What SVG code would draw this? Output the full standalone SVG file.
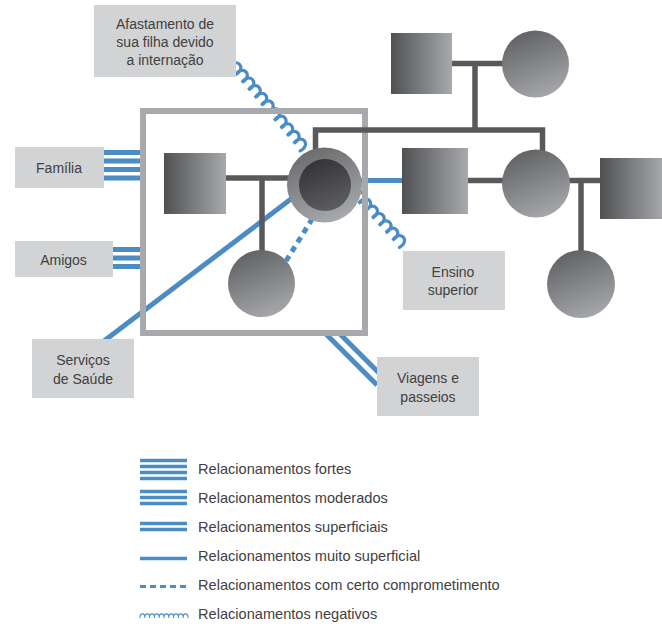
<svg xmlns="http://www.w3.org/2000/svg" width="662" height="624" viewBox="0 0 662 624">
<style>
  .box{fill:#d1d3d4}
  .lbl{font-family:"Liberation Sans",Arial,sans-serif;font-size:14px;fill:#414042;text-anchor:middle}
  .leg{font-family:"Liberation Sans",Arial,sans-serif;font-size:14.6px;fill:#414042}
  .blue{stroke:#4a8cc3;fill:none;stroke-width:5}
  .bl{stroke:#4a8cc3;fill:none;stroke-width:3.5}
  .wavy{stroke:#4a8cc3;fill:none;stroke-width:3.2;stroke-linecap:round}
  .ped{stroke:#58595b;fill:none;stroke-width:5.5}
  .frame{fill:none;stroke:#a7a9ac;stroke-width:6}
</style>
<defs>
  <linearGradient id="sq" x1="0" y1="0" x2="1" y2="0">
    <stop offset="0" stop-color="#505153"/>
    <stop offset="1" stop-color="#a7a9ac"/>
  </linearGradient>
  <linearGradient id="ci" x1="0.3" y1="0" x2="0.7" y2="1">
    <stop offset="0" stop-color="#606163"/>
    <stop offset="1" stop-color="#a7a9ac"/>
  </linearGradient>
  <linearGradient id="ring" x1="0.3" y1="0" x2="0.7" y2="1">
    <stop offset="0" stop-color="#6a6b6d"/>
    <stop offset="1" stop-color="#a9abae"/>
  </linearGradient>
  <linearGradient id="inner" x1="0.3" y1="0" x2="0.7" y2="1">
    <stop offset="0" stop-color="#333335"/>
    <stop offset="1" stop-color="#5e5f61"/>
  </linearGradient>
</defs>

<g id="connectors">
  <g class="blue" stroke-width="4.5">
    <line x1="104" y1="152.5" x2="142" y2="152.5"/>
    <line x1="104" y1="161" x2="142" y2="161"/>
    <line x1="104" y1="169.5" x2="142" y2="169.5"/>
    <line x1="104" y1="178" x2="142" y2="178"/>
  </g>
  <g class="blue" stroke-width="5">
    <line x1="113" y1="249.5" x2="142" y2="249.5"/>
    <line x1="113" y1="258" x2="142" y2="258"/>
    <line x1="113" y1="266.5" x2="142" y2="266.5"/>
  </g>
  <line class="blue" x1="100" y1="344" x2="312" y2="183"/>
  <line class="blue" x1="340" y1="334" x2="384" y2="378"/>
  <line class="blue" x1="326" y1="334" x2="377" y2="385"/>
  <line class="blue" x1="340" y1="180.5" x2="404" y2="180.5"/>
  <line class="blue" stroke-width="4" stroke-dasharray="6,5" x1="286" y1="261" x2="314" y2="216"/>
  <path class="wavy" transform="translate(229,67) rotate(49.7)" d="M0,0 c-3,-13 13,-13 10,0 c-3,-13 13,-13 10,0 c-3,-13 13,-13 10,0 c-3,-13 13,-13 10,0 c-3,-13 13,-13 10,0 c-3,-13 13,-13 10,0 c-3,-13 13,-13 10,0 c-3,-13 13,-13 10,0 c-3,-13 13,-13 10,0 c-3,-13 13,-13 10,0 c-3,-13 13,-13 10,0"/>
  <path class="wavy" transform="translate(352,196) rotate(47.3)" d="M0,0 c-3,-13 13,-13 10,0 c-3,-13 13,-13 10,0 c-3,-13 13,-13 10,0 c-3,-13 13,-13 10,0 c-3,-13 13,-13 10,0 c-3,-13 13,-13 10,0 c-3,-13 13,-13 10,0"/>
</g>

<g id="frame">
  <rect class="frame" x="143" y="111" width="222" height="222"/>
</g>

<g id="pedigree-lines" class="ped">
  <line x1="224" y1="178" x2="295" y2="178"/>
  <line x1="262" y1="178" x2="262" y2="255"/>
  <polyline points="315.5,152 315.5,130 542.5,130 542.5,155"/>
  <line x1="475" y1="61" x2="475" y2="130"/>
  <line x1="450" y1="63.5" x2="505" y2="63.5"/>
  <line x1="466" y1="180.5" x2="505" y2="180.5"/>
  <line x1="567" y1="180.5" x2="602" y2="180.5"/>
  <line x1="581" y1="180.5" x2="581" y2="253"/>
</g>

<g id="node-grandfather"><rect x="391" y="33" width="61" height="61" fill="url(#sq)"/></g>
<g id="node-grandmother"><circle cx="535.5" cy="64" r="33.5" fill="url(#ci)"/></g>
<g id="node-partner"><rect x="164" y="153" width="62" height="61" fill="url(#sq)"/></g>
<g id="node-index">
  <circle cx="324.5" cy="185" r="37.5" fill="url(#ring)"/>
  <circle cx="325" cy="185" r="26" fill="url(#inner)"/>
</g>
<g id="node-daughter"><circle cx="261.5" cy="283.5" r="33.5" fill="url(#ci)"/></g>
<g id="node-brother-in-law"><rect x="402" y="148" width="66" height="66" fill="url(#sq)"/></g>
<g id="node-sister"><circle cx="536" cy="183.5" r="34" fill="url(#ci)"/></g>
<g id="node-sister-partner"><rect x="600" y="158" width="64" height="61" fill="url(#sq)"/></g>
<g id="node-niece"><circle cx="581" cy="284" r="34" fill="url(#ci)"/></g>

<g id="node-afastamento">
  <rect class="box" x="94" y="5" width="142" height="72"/>
  <text class="lbl" x="165" y="29">Afastamento de</text>
  <text class="lbl" x="165" y="47">sua filha devido</text>
  <text class="lbl" x="165" y="65">a internação</text>
</g>
<g id="node-familia">
  <rect class="box" x="15" y="147" width="89" height="41"/>
  <text class="lbl" x="59" y="173">Família</text>
</g>
<g id="node-amigos">
  <rect class="box" x="15" y="241" width="98" height="36"/>
  <text class="lbl" x="63.5" y="265">Amigos</text>
</g>
<g id="node-servicos">
  <rect class="box" x="32" y="339" width="102" height="59"/>
  <text class="lbl" x="83" y="365">Serviços</text>
  <text class="lbl" x="83" y="384">de Saúde</text>
</g>
<g id="node-ensino">
  <rect class="box" x="403" y="251" width="102" height="59"/>
  <text class="lbl" x="453" y="277">Ensino</text>
  <text class="lbl" x="453" y="295">superior</text>
</g>
<g id="node-viagens">
  <rect class="box" x="377" y="357" width="102" height="59"/>
  <text class="lbl" x="428" y="383">Viagens e</text>
  <text class="lbl" x="428" y="402">passeios</text>
</g>

<g id="legend">
  <g class="bl">
    <line x1="140" y1="460.5" x2="187" y2="460.5"/>
    <line x1="140" y1="466.5" x2="187" y2="466.5"/>
    <line x1="140" y1="472.5" x2="187" y2="472.5"/>
    <line x1="140" y1="478.5" x2="187" y2="478.5"/>
    <line x1="140" y1="491.5" x2="187" y2="491.5"/>
    <line x1="140" y1="497.5" x2="187" y2="497.5"/>
    <line x1="140" y1="503.5" x2="187" y2="503.5"/>
    <line x1="140" y1="523.5" x2="187" y2="523.5"/>
    <line x1="140" y1="529.5" x2="187" y2="529.5"/>
    <line x1="140" y1="558.5" x2="187" y2="558.5"/>
    <line x1="140" y1="586.5" x2="187" y2="586.5" stroke-width="3" stroke-dasharray="6,4"/>
  </g>
  <path stroke="#4a8cc3" fill="none" stroke-width="1.1" transform="translate(140,618)" d="M0,0 c-1,-5.5 5.8,-5.5 4.8,0 c-1,-5.5 5.8,-5.5 4.8,0 c-1,-5.5 5.8,-5.5 4.8,0 c-1,-5.5 5.8,-5.5 4.8,0 c-1,-5.5 5.8,-5.5 4.8,0 c-1,-5.5 5.8,-5.5 4.8,0 c-1,-5.5 5.8,-5.5 4.8,0 c-1,-5.5 5.8,-5.5 4.8,0 c-1,-5.5 5.8,-5.5 4.8,0 c-1,-5.5 5.8,-5.5 4.8,0"/>
  <text class="leg" x="198" y="474">Relacionamentos fortes</text>
  <text class="leg" x="198" y="503">Relacionamentos moderados</text>
  <text class="leg" x="198" y="532">Relacionamentos superficiais</text>
  <text class="leg" x="198" y="561">Relacionamentos muito superficial</text>
  <text class="leg" x="198" y="590">Relacionamentos com certo comprometimento</text>
  <text class="leg" x="198" y="619">Relacionamentos negativos</text>
</g>
</svg>
